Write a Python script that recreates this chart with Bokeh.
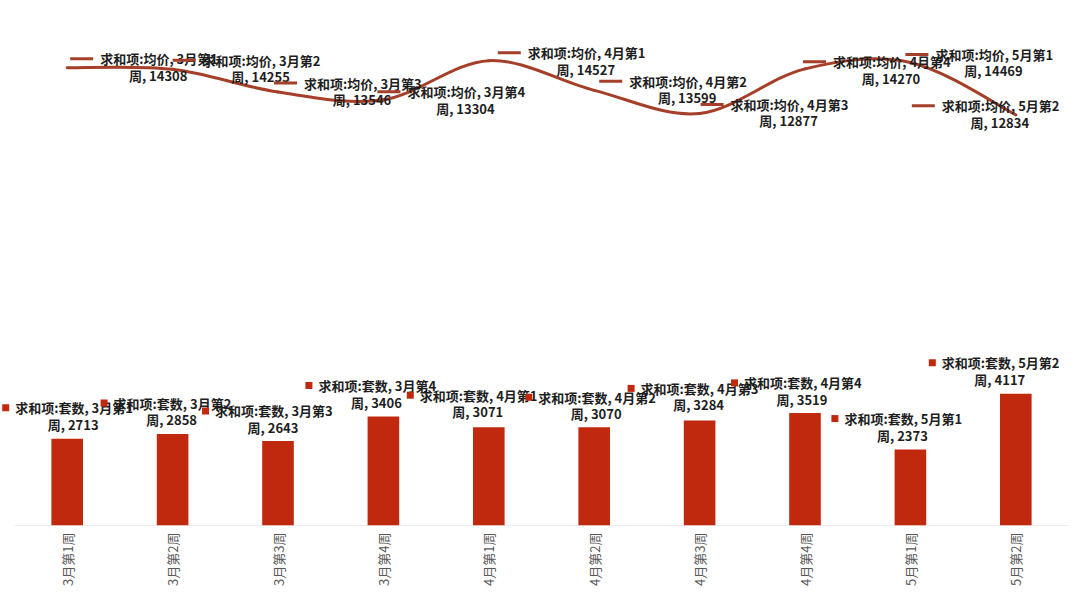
import math
from bokeh.plotting import figure
from bokeh.models import Range1d, FixedTicker
from bokeh.embed import file_html
from bokeh.resources import INLINE
from bokeh.core.properties import value

# ---------------- data ----------------
categories = ["3月第1周", "3月第2周", "3月第3周", "3月第4周", "4月第1周",
              "4月第2周", "4月第3周", "4月第4周", "5月第1周", "5月第2周"]
price = [14308, 14255, 13546, 13304, 14527, 13599, 12877, 14270, 14469, 12834]
count = [2713, 2858, 2643, 3406, 3071, 3070, 3284, 3519, 2373, 4117]
price_name = "求和项:均价"
count_name = "求和项:套数"

# label placement in pixels (text centre x offset, first-line y offset; +down)
price_label_dx = [91, 88, 84, 82, 97, 93, 89, 86, 83, -16]
price_label_dy = [-9, -9, -9, -8, -8, -9, -9, -7, -8, -9]
count_label_dx = [6, -1, -5, -7, -11, 2, -1, -3, -8, -16]
count_label_dy = [-31, -31, -30, -31, -32, -30, -32, -30, -31, -31]

# ---------------- layout / style ----------------
W, H = 1076, 597
BR, BT, BB = 8, 13, 72
LEFT_PAD = 14                    # px between figure edge and category area
YMAX = 16000
N = len(categories)
PXX = (W - LEFT_PAD - BR) / N    # px per x unit
PXY = (H - BT - BB) / YMAX       # px per y unit
TEXT_W = 116                     # approx width of first label line
LINE_GAP = 16.5
BAR_COLOR = "#C1290E"
LINE_COLOR = "#A53F29"
LABEL_COLOR = "#1E1E1E"
AXIS_COLOR = "#D9D9D9"
FONT = "Noto Sans CJK SC"

xs = list(range(N))
x_lo = -0.5
x_hi = N - 0.5

p = figure(width=W, height=H, output_backend="svg", toolbar_location=None,
           x_range=Range1d(x_lo - LEFT_PAD / PXX, x_hi), y_range=Range1d(0, YMAX),
           min_border_left=0, min_border_right=BR, min_border_top=BT,
           min_border_bottom=BB)
p.outline_line_color = None
p.grid.visible = False
p.yaxis.visible = False
p.background_fill_color = "white"
p.border_fill_color = "white"

ax = p.xaxis[0]
ax.ticker = FixedTicker(ticks=xs)
ax.major_label_overrides = {i: c for i, c in zip(xs, categories)}
ax.major_label_orientation = math.pi / 2
ax.major_tick_line_color = None
ax.minor_tick_line_color = None
ax.major_tick_out = 0
ax.major_tick_in = 0
ax.axis_line_color = None
ax.major_label_text_color = "#595959"
ax.major_label_text_font = FONT
ax.major_label_text_font_size = "13px"
ax.major_label_standoff = 7

# category axis line (spans only the category area)
p.segment(x0=[x_lo], y0=[0], x1=[x_hi], y1=[0], line_color=AXIS_COLOR,
          line_width=1)

# bars
p.vbar(x=xs, top=count, width=0.3, bottom=0, fill_color=BAR_COLOR,
       line_color=None)

# smoothed line (Excel-style bezier through the data points)
x0s, y0s, x1s, y1s, cx0s, cy0s, cx1s, cy1s = [], [], [], [], [], [], [], []
for i in range(N - 1):
    a = i - 1 if i > 0 else i
    d = i + 2 if i + 2 < N else i + 1
    x0s.append(xs[i]); y0s.append(price[i])
    x1s.append(xs[i + 1]); y1s.append(price[i + 1])
    cx0s.append(xs[i] + (xs[i + 1] - xs[a]) / 6)
    cy0s.append(price[i] + (price[i + 1] - price[a]) / 6)
    cx1s.append(xs[i + 1] - (xs[d] - xs[i]) / 6)
    cy1s.append(price[i + 1] - (price[d] - price[i]) / 6)
p.bezier(x0=x0s, y0=y0s, x1=x1s, y1=y1s, cx0=cx0s, cy0=cy0s, cx1=cx1s,
         cy1=cy1s, line_color=LINE_COLOR, line_width=3, line_cap="round")


def add_labels(vals, name, dxs, dys, kind):
    l1x, l1y, l2x, l2y, t1, t2 = [], [], [], [], [], []
    kx0, kx1, ky = [], [], []
    for i, v in enumerate(vals):
        cx = xs[i] + dxs[i] / PXX
        left = cx - (TEXT_W / 2) / PXX
        y1 = v - dys[i] / PXY
        y2 = v - (dys[i] + LINE_GAP) / PXY
        l1x.append(left); l1y.append(y1)
        l2x.append(cx); l2y.append(y2)
        t1.append(f"{name}, {categories[i][:-1]}")
        t2.append(f"{categories[i][-1]}, {v}")
        if kind == "line":
            kx0.append(left - 30 / PXX); kx1.append(left - 7 / PXX)
        else:
            kx0.append(left - 9.5 / PXX)
        ky.append(y1)
    common = dict(text_font=value(FONT), text_font_size="13px",
                  text_font_style="bold", text_color=LABEL_COLOR,
                  text_baseline="middle")
    p.text(x=l1x, y=l1y, text=t1, text_align="left", **common)
    p.text(x=l2x, y=l2y, text=t2, text_align="center", **common)
    if kind == "line":
        p.segment(x0=kx0, y0=ky, x1=kx1, y1=ky, line_color=LINE_COLOR,
                  line_width=3)
    else:
        p.scatter(x=kx0, y=ky, marker="square", size=7, fill_color=BAR_COLOR,
                  line_color=None)


add_labels(price, price_name, price_label_dx, price_label_dy, "line")
add_labels(count, count_name, count_label_dx, count_label_dy, "bar")

open("out.html", "w").write(file_html(p, INLINE))
